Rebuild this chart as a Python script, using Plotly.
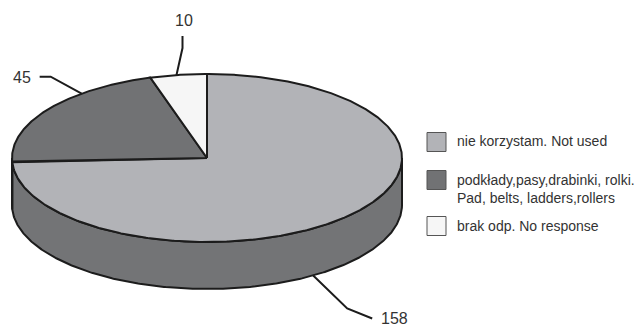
import numpy as np
import plotly.graph_objects as go

# ---- data ----
categories = ["nie korzystam. Not used",
              "podkłady,pasy,drabinki, rolki.<br>Pad, belts, ladders,rollers",
              "brak odp. No response"]
values = [158, 45, 10]
value_labels = ["158", "45", "10"]

# ---- styles ----
top_colors = ["#b2b3b7", "#717274", "#f6f6f6"]
side_colors = ["#737476", "#5e5f61", "#d6d6d6"]
EDGE = "#1c1c1c"
FONT = "Liberation Sans, Arial, sans-serif"
TXT = "#333333"

# ---- geometry (pixel space) ----
CX, CY, RX, RY, DEPTH = 207, 158, 195, 84, 47
W, H = 635, 326


def pt(theta_deg, dz=0.0):
    t = np.radians(theta_deg)
    return CX + RX * np.sin(t), CY - RY * np.cos(t) + dz


def arc(a0, a1, dz=0.0, n=None):
    if n is None:
        n = max(2, int(abs(a1 - a0) * 2) + 2)
    th = np.linspace(a0, a1, n)
    xs, ys = pt(th, dz)
    return list(xs), list(ys)


total = float(sum(values))
ends = np.cumsum(values) / total * 360.0
starts = np.concatenate([[0.0], ends[:-1]])

fig = go.Figure()

# side walls (front half only: 90..270 deg clockwise from top)
for i, (a0, a1) in enumerate(zip(starts, ends)):
    lo, hi = max(a0, 90.0), min(a1, 270.0)
    if hi <= lo:
        continue
    tx, ty = arc(lo, hi)
    bx, by = arc(hi, lo, DEPTH)
    xs = tx + bx + [tx[0]]
    ys = ty + by + [ty[0]]
    fig.add_trace(go.Scatter(x=xs, y=ys, mode="lines", fill="toself",
                             fillcolor=side_colors[i],
                             line=dict(color=EDGE, width=2),
                             hoverinfo="skip", showlegend=False))

# top faces
for i, (a0, a1) in enumerate(zip(starts, ends)):
    ax, ay = arc(a0, a1)
    xs = [CX] + ax + [CX]
    ys = [CY] + ay + [CY]
    fig.add_trace(go.Scatter(x=xs, y=ys, mode="lines", fill="toself",
                             fillcolor=top_colors[i],
                             line=dict(color=EDGE, width=2),
                             hoverinfo="skip", showlegend=False))

# leader lines and value labels
leader_angle = [147, 320, 351]
leader_dz = [DEPTH, 0, 0]
leader_elbow = [(34, 33), (-31, -17), (6, -27)]
leader_end = [(25, 10), (-11, 0), (0, -12)]
label_pos = [(394, 318), (22, 77), (184, 20)]
for i in range(len(values)):
    sx, sy = pt(leader_angle[i], leader_dz[i])
    ex, ey = sx + leader_elbow[i][0], sy + leader_elbow[i][1]
    fx, fy = ex + leader_end[i][0], ey + leader_end[i][1]
    fig.add_trace(go.Scatter(x=[sx, ex, fx], y=[sy, ey, fy], mode="lines",
                             line=dict(color=EDGE, width=2),
                             hoverinfo="skip", showlegend=False))
    fig.add_annotation(x=label_pos[i][0], y=label_pos[i][1], text=value_labels[i],
                       showarrow=False, xanchor="center", yanchor="middle",
                       font=dict(family=FONT, size=16, color=TXT))

# legend
leg_y = [142, 180, 226]
leg_text_y = [141, 189, 226]
for i, cat in enumerate(categories):
    fig.add_shape(type="rect", x0=427, x1=446, y0=leg_y[i] - 9.5, y1=leg_y[i] + 9.5,
                  xref="x", yref="y", fillcolor=top_colors[i],
                  line=dict(color="#555555", width=1))
    fig.add_annotation(x=455, y=leg_text_y[i], text=cat, showarrow=False,
                       xanchor="left", yanchor="middle", align="left",
                       font=dict(family=FONT, size=14, color=TXT))

fig.update_layout(width=W, height=H, margin=dict(l=0, r=0, t=0, b=0),
                  paper_bgcolor="white", plot_bgcolor="white",
                  xaxis=dict(range=[0, W], visible=False, fixedrange=True),
                  yaxis=dict(range=[H, 0], visible=False, fixedrange=True),
                  showlegend=False)
fig.write_html("out.html")
